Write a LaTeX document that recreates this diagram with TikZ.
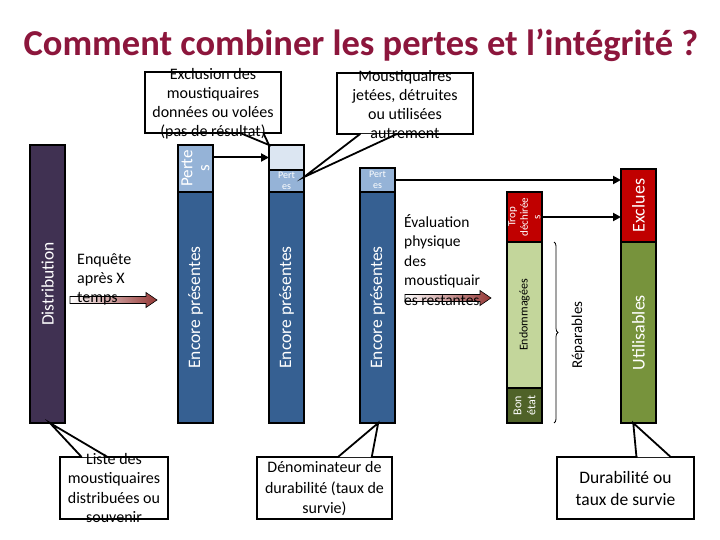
\documentclass[tikz,border=0pt]{standalone}
\usepackage{fontspec}
\setmainfont{Carlito}
\usetikzlibrary{arrows.meta,calc,decorations.pathreplacing}
\definecolor{titlec}{RGB}{140,22,60}
\definecolor{distc}{RGB}{64,49,82}
\definecolor{encc}{RGB}{54,96,146}
\definecolor{pertc}{RGB}{149,179,215}
\definecolor{lightc}{RGB}{220,230,242}
\definecolor{redc}{RGB}{192,0,0}
\definecolor{endoc}{RGB}{195,214,155}
\definecolor{bonc}{RGB}{79,98,40}
\definecolor{utilc}{RGB}{119,147,60}
\definecolor{arrc}{RGB}{149,55,53}
\tikzset{
  seg/.style={draw=black, line width=1.9pt, inner sep=0pt, outer sep=0pt, minimum width=35pt, anchor=north west},
  vlab/.style={rotate=90, align=center, inner sep=0pt, text=white},
  big/.style={font=\fontsize{17.5}{18}\selectfont},
  conn/.style={line width=2pt, -{Triangle[length=8pt,width=8pt]}},
  cbox/.style={draw=black, line width=1.8pt, fill=white, inner sep=0pt, outer sep=0pt, anchor=north west},
  ctext/.style={align=center, inner sep=0pt, font=\fontsize{16}{19.5}\selectfont},
  wedge/.style={line width=1.8pt},
  grad/.style={left color=white, right color=arrc, draw=black, line width=0.6pt}
}
\begin{document}
\begin{tikzpicture}[x=1pt,y=-1pt]
\useasboundingbox (0,0) rectangle (720,540);
% title
\node[anchor=base, text=titlec, font=\fontsize{36.5}{40}\bfseries\selectfont, inner sep=0pt] (title) at (361,56) {Comment combiner les pertes et l’intégrité ?};

% bars
\node[seg, fill=distc, minimum height=278pt] (dist) at (30,145) {};
\node[seg, fill=pertc, minimum height=47pt] (b2p) at (178,145) {};
\node[seg, fill=encc, minimum height=231pt] (b2e) at (178,192) {};
\node[seg, fill=lightc, minimum height=25pt] (b3l) at (269,145) {};
\node[seg, fill=pertc, minimum height=22pt] (b3p) at (269,170) {};
\node[seg, fill=encc, minimum height=231pt] (b3e) at (269,192) {};
\node[seg, fill=pertc, minimum height=24pt] (b4p) at (360,168) {};
\node[seg, fill=encc, minimum height=231pt] (b4e) at (360,192) {};
\node[seg, fill=redc, minimum height=50pt] (b5t) at (507,192) {};
\node[seg, fill=endoc, minimum height=146pt] (b5d) at (507,242) {};
\node[seg, fill=bonc, minimum height=35pt] (b5b) at (507,388) {};
\node[seg, fill=redc, minimum height=73pt] (b6x) at (621,169) {};
\node[seg, fill=utilc, minimum height=181pt] (b6u) at (621,242) {};

% bar labels
\node[vlab, big] (distT) at (dist.center) {Distribution};
\node[vlab, font=\fontsize{17}{17}\selectfont] (b2pT) at (b2p.center) {Perte\\s};
\node[vlab, big] (b2eT) at (b2e.center) {Encore présentes};
\node[vlab, big] (b3eT) at (b3e.center) {Encore présentes};
\node[vlab, big] (b4eT) at (b4e.center) {Encore présentes};
\node[align=center, inner sep=0pt, text=white, font=\fontsize{10}{11.5}\selectfont] (b3pT) at (b3p.center) {Pert\\es};
\node[align=center, inner sep=0pt, text=white, font=\fontsize{10}{11.5}\selectfont] (b4pT) at (b4p.center) {Pert\\es};
\node[vlab, font=\fontsize{11}{12.5}\selectfont] (b5tT) at (b5t.center) {Trop\\déchirée\\s};
\node[vlab, text=black, font=\fontsize{12}{14}\selectfont] (b5dT) at (b5d.center) {Endommagées};
\node[vlab, font=\fontsize{12}{14}\selectfont] (b5bT) at (b5b.center) {Bon\\état};
\node[vlab, font=\fontsize{18}{18}\selectfont] (b6xT) at (b6x.center) {Exclues};
\node[vlab, font=\fontsize{18}{18}\selectfont] (b6uT) at (b6u.center) {Utilisables};

% brace and label
\coordinate (brT) at ($(b5d.north east)+(12,0)$);
\coordinate (brB) at ($(b5b.south east)+(12,0)$);
\draw[line width=0.8pt, decorate, decoration={brace, amplitude=4pt}] (brT) -- (brB);
\node[rotate=90, inner sep=0pt, font=\fontsize{15}{15}\selectfont] (rep) at (578,335) {Réparables};

% connectors
\draw[conn] (b2p.east |- b3l.west) -- (b3l.west);
\draw[conn] (b4p.east) -- (b6x.west |- b4p.east);
\draw[conn] (b5t.east) -- (b6x.west |- b5t.east);

% gradient arrows
\coordinate (a1s) at (70,300);
\coordinate (a1e) at (157,300);
\shade[grad] ($(a1s)+(0,-3.5)$) -- ($(a1e)+(-11,-3.5)$) -- ($(a1e)+(-11,-7.5)$) -- (a1e) -- ($(a1e)+(-11,7.5)$) -- ($(a1e)+(-11,3.5)$) -- ($(a1s)+(0,3.5)$) -- cycle;
\coordinate (a2s) at (405,298);
\coordinate (a2e) at (491,298);
\shade[grad] ($(a2s)+(0,-3.5)$) -- ($(a2e)+(-11,-3.5)$) -- ($(a2e)+(-11,-7.5)$) -- (a2e) -- ($(a2e)+(-11,7.5)$) -- ($(a2e)+(-11,3.5)$) -- ($(a2s)+(0,3.5)$) -- cycle;
\node[anchor=west, align=left, inner sep=0pt, font=\fontsize{16}{19}\selectfont] (enq) at (77,279) {Enquête\\après X\\temps};
\node[anchor=west, align=left, inner sep=0pt, font=\fontsize{15.5}{19.5}\selectfont] (eval) at (404,260) {Évaluation\\physique\\des\\moustiquair\\es restantes};

% callout boxes
\node[cbox, minimum width=136pt, minimum height=61pt] (c1) at (145,72) {};
\node[cbox, minimum width=136pt, minimum height=61pt] (c2) at (337,73) {};
\node[cbox, minimum width=108pt, minimum height=62pt] (c3) at (60,457) {};
\node[cbox, minimum width=135pt, minimum height=62pt] (c4) at (257,457) {};
\node[cbox, minimum width=137pt, minimum height=62pt] (c5) at (557,457) {};

% callout pointers
\coordinate (p1a) at ($(c1.south west)!0.70!(c1.south east)$);
\coordinate (p1b) at ($(c1.south west)!0.87!(c1.south east)$);
\coordinate (p2a) at ($(c2.south west)!0.17!(c2.south east)$);
\coordinate (p2b) at ($(c2.south west)!0.44!(c2.south east)$);
\coordinate (p2t) at ($(b3p.north east)!0.32!(b3p.south east)$);
\coordinate (p3a) at ($(c3.north west)!0.20!(c3.north east)$);
\coordinate (p3b) at ($(c3.north west)!0.44!(c3.north east)$);
\coordinate (p3t) at ($(dist.south west)!0.57!(dist.south east)$);
\coordinate (p4a) at ($(c4.north west)!0.60!(c4.north east)$);
\coordinate (p4b) at ($(c4.north west)!0.85!(c4.north east)$);
\coordinate (p4t) at ($(b4e.south west)!0.52!(b4e.south east)$);
\coordinate (p5a) at ($(c5.north west)!0.58!(c5.north east)$);
\coordinate (p5b) at ($(c5.north west)!0.83!(c5.north east)$);
\coordinate (p5t) at ($(b6u.south west)!0.35!(b6u.south east)$);
\foreach \a/\b/\t in {p1a/p1b/b3l.north west, p2a/p2b/p2t, p3a/p3b/p3t, p4a/p4b/p4t, p5a/p5b/p5t}{
  \fill[white] ($(\a)!0.03!(\b)$) -- (\t) -- ($(\b)!0.03!(\a)$) -- cycle;
  \draw[wedge] (\a) -- (\t) -- (\b);
}

% callout texts
\node[ctext, font=\fontsize{16}{19}\selectfont] (c1T) at ($(c1.center)+(0,1)$) {Exclusion des\\moustiquaires\\données ou volées\\(pas de résultat)};
\node[ctext, font=\fontsize{16}{19}\selectfont] (c2T) at ($(c2.center)+(0,1.5)$) {Moustiquaires\\jetées, détruites\\ou utilisées\\autrement};
\node[ctext] (c3T) at (c3.center) {Liste des\\moustiquaires\\distribuées ou\\souvenir};
\node[ctext, font=\fontsize{16}{20.5}\selectfont] (c4T) at ($(c4.center)+(0,1)$) {Dénominateur de\\durabilité (taux de\\survie)};
\node[ctext, font=\fontsize{17.5}{22}\selectfont] (c5T) at (c5.center) {Durabilité ou\\taux de survie};
\end{tikzpicture}
\end{document}
